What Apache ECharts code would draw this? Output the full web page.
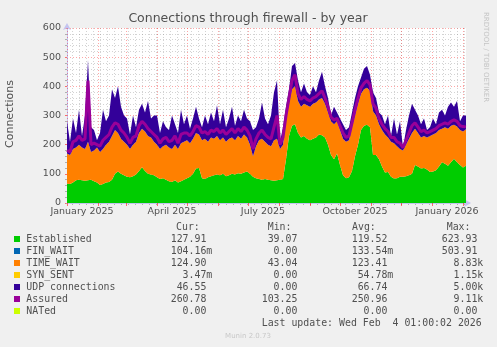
<!DOCTYPE html>
<html>
<head>
<meta charset="utf-8">
<script src="https://cdn.jsdelivr.net/npm/echarts@6/dist/echarts.min.js"></script>
<style>
  html, body { margin: 0; padding: 0; background: #f0f0f0; }
  #chart { width: 497px; height: 347px; }
</style>
</head>
<body>
<div id="chart"></div>
<script>
// one sample every 3 days, day 0 = 1 Jan 2025
const STEP = 3;

const established = [66,65,70,78,80,78,76,78,80,75,70,
  62,65,70,72,80,100,108,100,95,
  90,88,92,98,110,123,110,100,98,95,
  88,82,85,80,75,72,78,70,75,80,
  85,90,100,118,120,85,82,88,92,95,98,
  95,100,92,95,100,98,102,100,105,108,
  100,90,85,82,80,82,80,78,76,78,80,82,
  150,230,265,270,240,225,230,220,
  215,220,225,235,232,225,200,165,150,170,
  130,95,85,88,110,160,200,250,265,268,260,
  165,165,150,125,105,106,90,84,85,90,
  90,92,95,100,130,125,118,120,115,106,
  108,112,125,140,135,128,140,152,140,130,122,128];

const timeWait = [104,100,115,112,120,112,109,132,95,105,120,
  113,120,130,138,150,150,132,120,115,
  110,97,108,112,130,132,135,130,127,115,
  112,103,110,120,115,113,122,115,130,130,
  130,115,120,122,115,130,138,122,133,125,132,
  120,125,118,125,125,117,128,120,130,117,
  100,70,110,133,140,128,120,117,139,142,105,118,
  140,110,125,130,110,105,110,115,
  115,120,120,120,128,115,110,115,120,110,
  120,125,125,127,150,140,140,125,125,127,125,
  150,135,120,125,130,119,120,121,110,95,
  90,108,125,140,125,115,107,110,110,124,
  127,128,125,115,125,127,125,116,122,120,123,125];

const udp = [110,45,105,50,120,40,115,280,85,70,25,
  65,135,80,90,160,110,160,110,90,
  90,50,100,50,80,85,65,120,65,90,
  100,55,85,60,60,115,70,55,115,60,
  85,50,70,90,55,45,80,60,85,60,105,
  55,95,50,70,105,50,70,60,85,65,
  80,90,65,75,125,80,70,105,165,200,25,60,
  40,50,80,80,70,50,70,45,
  40,60,35,65,90,60,50,20,60,30,
  40,50,40,45,50,60,60,55,70,75,55,
  65,60,40,50,35,75,20,85,40,95,
  10,50,80,100,65,60,45,60,25,30,
  55,30,60,65,40,75,80,62,88,30,55,47];

const assured = [180,175,210,215,230,215,220,420,200,205,200,
  195,215,225,235,260,275,270,250,240,
  225,205,225,230,265,280,270,255,245,235,
  225,205,220,225,210,215,230,205,235,240,
  240,230,245,265,260,240,245,235,250,245,255,
  240,250,235,245,255,240,255,245,260,250,
  230,185,220,240,250,235,225,220,260,300,200,225,
  300,360,420,440,375,355,365,355,
  350,360,365,375,385,360,330,295,285,290,
  265,240,225,230,275,320,360,395,410,420,405,
  340,325,290,270,255,245,225,225,210,205,
  190,215,240,265,275,260,245,250,240,245,
  250,255,265,270,275,270,280,285,280,265,262,261];

const sampleDays = established.map((_, i) => i * STEP);

const monthStarts = [0,31,59,90,120,151,181,212,243,273,304,334,365,396];
const labelDays = [15,105,196,288,380];
const labelNames = ['January 2025','April 2025','July 2025','October 2025','January 2026'];
const weekTicks = [];
for (let d = 5; d < 399; d += 7) weekTicks.push(d);

const legendNames = ['Established','FIN_WAIT','TIME_WAIT','SYN_SENT','UDP connections','Assured','NATed'];
const legendColors = ['#00cc00','#0066b3','#ff8000','#ffcc00','#330099','#990099','#ccff00'];
const curVals = ['127.91','104.16m','124.90','  3.47m',' 46.55','260.78','  0.00'];
const minVals = [' 39.07','  0.00',' 43.04','  0.00','  0.00','103.25','  0.00'];
const avgVals = ['119.52','133.54m','123.41',' 54.78m',' 66.74','250.96','  0.00'];
const maxVals = ['623.93','503.91','  8.83k','  1.15k','  5.00k','  9.11k','  0.00'];

const FONT = 'DejaVu Sans';
const MONO = 'DejaVu Sans Mono';
const TEXT = '#505050';
const MAJOR = 'rgba(255,0,0,0.35)';
const MINOR = 'rgba(130,130,130,0.35)';
const AXIS = '#c4c4f0';

const chart = echarts.init(document.getElementById('chart'));

const monoText = (x, y, text, color) => ({
  type: 'text', x, y, silent: true,
  style: { text, fill: color || TEXT, font: '9.9px "' + MONO + '"', verticalAlign: 'middle' }
});

const graphic = [
  { type: 'text', x: 248, y: 18.5, silent: true,
    style: { text: 'Connections through firewall - by year', fill: TEXT, font: '12.5px "' + FONT + '"', align: 'center', verticalAlign: 'middle' } },
  { type: 'text', x: 10.5, y: 114, rotation: Math.PI / 2, silent: true,
    style: { text: 'Connections', fill: TEXT, font: '11px "' + FONT + '"', align: 'center', verticalAlign: 'middle' } },
  { type: 'text', x: 486, y: 57, rotation: -Math.PI / 2, silent: true,
    style: { text: 'RRDTOOL / TOBI OETIKER', fill: '#c4c4c4', font: '7px "' + FONT + '"', align: 'center', verticalAlign: 'middle' } },
  monoText(176, 227.3, 'Cur:'),
  monoText(267.7, 227.3, 'Min:'),
  monoText(352, 227.3, 'Avg:'),
  monoText(446.7, 227.3, 'Max:'),
  monoText(261.7, 323.7, 'Last update: Wed Feb  4 01:00:02 2026'),
  { type: 'text', x: 248, y: 336, silent: true,
    style: { text: 'Munin 2.0.73', fill: '#c8c8c8', font: '7px "' + FONT + '"', align: 'center', verticalAlign: 'middle' } }
];

legendNames.forEach((name, i) => {
  const y = 239.5 + i * 12;
  graphic.push({ type: 'rect', silent: true, shape: { x: 14, y: y - 3.5, width: 6, height: 6 }, style: { fill: legendColors[i] } });
  graphic.push(monoText(26.3, y, name));
  graphic.push(monoText(170.7, y, curVals[i]));
  graphic.push(monoText(261.7, y, minVals[i]));
  graphic.push(monoText(351.7, y, avgVals[i]));
  graphic.push(monoText(441.7, y, maxVals[i]));
});

const areaSeries = (name, data, color) => ({
  type: 'line', name, data, stack: 'total', symbol: 'none', xAxisIndex: 2,
  itemStyle: { color }, lineStyle: { width: 0, opacity: 0 },
  areaStyle: { color, opacity: 1 }, silent: true
});

chart.setOption({
  animation: false,
  backgroundColor: '#f0f0f0',
  grid: { left: 67, top: 28, width: 399, height: 175, show: true, backgroundColor: '#ffffff', borderWidth: 0 },
  xAxis: [
    {
      type: 'value', min: 0, max: 399, z: 2,
      axisLine: { show: true, lineStyle: { color: AXIS }, symbol: ['none', 'arrow'], symbolSize: [6, 7], symbolOffset: [0, 5] },
      axisTick: { show: true, customValues: monthStarts, length: 3, lineStyle: { color: 'rgba(255,0,0,0.55)' } },
      splitLine: { show: true, lineStyle: { color: MAJOR, type: [1, 2] } },
      axisLabel: {
        customValues: labelDays,
        formatter: v => labelNames[labelDays.indexOf(v)] || '',
        color: TEXT, fontFamily: FONT, fontSize: 9.5, margin: 4
      }
    },
    {
      type: 'value', min: 0, max: 399, position: 'bottom', z: 1,
      axisLine: { show: false },
      axisLabel: { show: false },
      axisTick: { show: true, customValues: weekTicks, length: 2, lineStyle: { color: '#b0b0b0' } },
      splitLine: { show: true, lineStyle: { color: MINOR, type: [1, 2] } }
    },
    {
      type: 'category', data: sampleDays, boundaryGap: false, show: false, position: 'bottom'
    }
  ],
  yAxis: {
    type: 'value', min: 0, max: 600, interval: 100,
    axisLine: { show: true, lineStyle: { color: AXIS }, symbol: ['none', 'arrow'], symbolSize: [6, 7], symbolOffset: [0, 5] },
    axisTick: { show: true, length: 2, lineStyle: { color: 'rgba(255,0,0,0.55)' } },
    minorTick: { show: true, splitNumber: 5, length: 2, lineStyle: { color: '#b0b0b0' } },
    splitLine: { show: true, lineStyle: { color: MAJOR, type: [1, 2] } },
    minorSplitLine: { show: true, lineStyle: { color: MINOR, type: [1, 2] } },
    axisLabel: { color: TEXT, fontFamily: FONT, fontSize: 9.5, margin: 6 }
  },
  series: [
    areaSeries('Established', established, '#00cc00'),
    areaSeries('TIME_WAIT', timeWait, '#ff8000'),
    areaSeries('UDP connections', udp, '#330099'),
    {
      type: 'line', name: 'Assured', data: assured, symbol: 'none', z: 3, silent: true, xAxisIndex: 2,
      itemStyle: { color: '#990099' }, lineStyle: { color: '#990099', width: 3 }
    }
  ],
  graphic
});
</script>
</body>
</html>
